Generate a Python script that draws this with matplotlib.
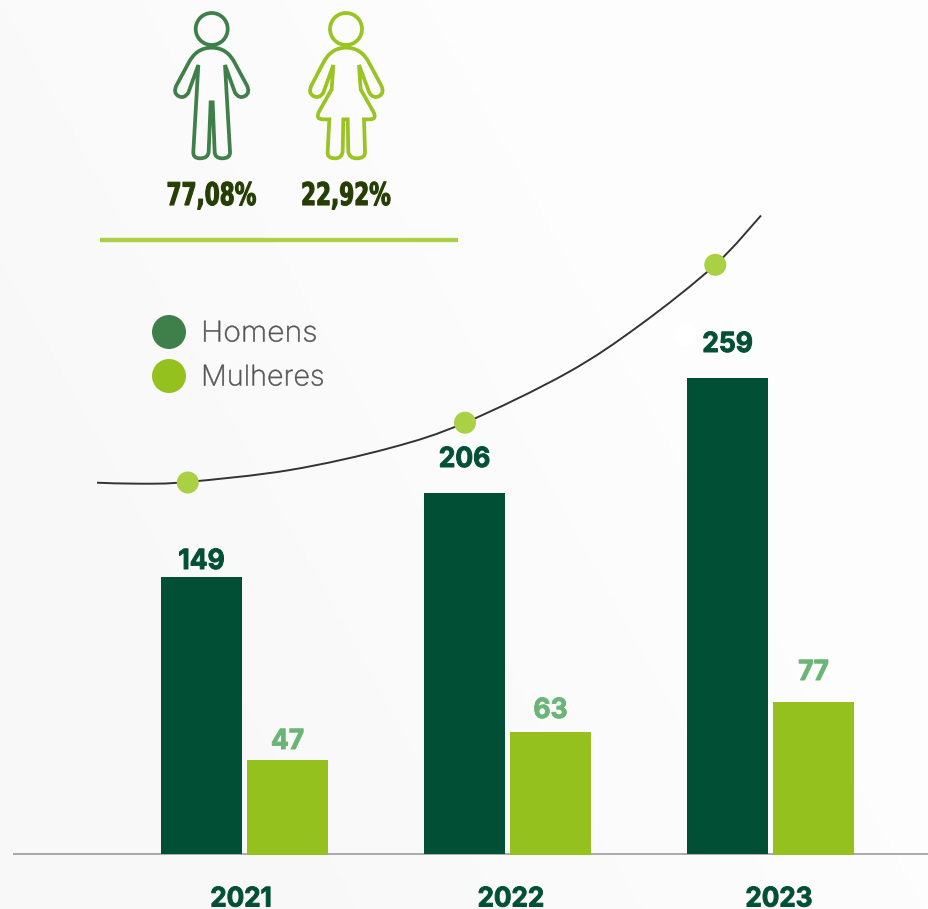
import numpy as np
import matplotlib
matplotlib.use('Agg')
import matplotlib.pyplot as plt
from matplotlib.colors import LinearSegmentedColormap
from matplotlib.path import Path
from matplotlib.patches import PathPatch, Circle
from matplotlib.transforms import Affine2D
import matplotlib.patheffects as pe

W, H = 929, 909

years = ['2021', '2022', '2023']
homens_labels = [149, 206, 259]
mulheres_labels = [47, 63, 77]
# the drawn bars are not to scale with their labels, so heights are read separately
homens_heights = [277, 361, 476]
mulheres_heights = [94, 122, 152]
shares = ['77,08%', '22,92%']
legend_names = ['Homens', 'Mulheres']

# the curve
curve_x = [97, 140, 187, 290, 390, 465, 567, 640, 715, 761]
curve_y = [482.7, 483.7, 482, 470, 448, 422.7, 373, 325, 265, 215.5]

DARK = '#014f35'
LIME = '#95c11f'
MID = '#3f7f4a'
DOT = '#aad044'
LABEL_LIGHT = '#6ab477'
SHARE = '#263d04'
FEMALE = '#9ac422'

FONT = ['Inter', 'DejaVu Sans']


class Stretch(pe.AbstractPathEffect):
    # widen or squeeze the glyphs around cx, Montserrat and the condensed face are not installed
    def __init__(self, cx, sx, stroke=0.0):
        super().__init__()
        self.cx = cx
        self.sx = sx
        self.stroke = stroke

    def draw_path(self, renderer, gc, tpath, affine, rgbFace=None):
        aff = affine + Affine2D().translate(-self.cx, 0).scale(self.sx, 1).translate(self.cx, 0)
        gc0 = renderer.new_gc()
        gc0.copy_properties(gc)
        gc0.set_linewidth(self.stroke)
        gc0.set_foreground(rgbFace)
        renderer.draw_path(gc0, tpath, aff, rgbFace)
        gc0.restore()


fig = plt.figure(figsize=(W / 100, H / 100), dpi=100, facecolor='#f9f9f9')

# pixel-space axes for everything decorative
bg = fig.add_axes([0, 0, 1, 1])
bg.axis('off')

# soft background, lighter to the upper right
gx, gy = np.meshgrid(np.linspace(0, 1, 240), np.linspace(0, 1, 240))
shade = np.clip(gx * 1.3 + (1 - gy) * 0.7 - 0.3, 0, 1)
cmap = LinearSegmentedColormap.from_list('bgshade', ['#f8f8f8', '#fdfdfd'])
bg.imshow(shade, extent=(0, W, H, 0), aspect='auto', cmap=cmap, zorder=0)
bg.set_xlim(0, W)
bg.set_ylim(H, 0)

# bar axes, one y unit is one pixel
BASE = 854
ax = fig.add_axes([0, 0, 1, 1])
ax.patch.set_alpha(0)
ax.set_xlim(0, W)
ax.set_ylim(BASE - H, BASE)
ax.axis('off')

x_h = np.array([201.5, 464.5, 727.5])
x_m = np.array([287.5, 550.5, 813.5])
x_year = [241, 511, 779]
gap_h = [15, 33, 33]
gap_m = [18, 21, 29]
ax.plot([13, W], [-0.4, -0.4], color='#a3a3a3', lw=1.3, zorder=1, solid_capstyle='butt')
ax.bar(x_h, homens_heights, width=81, color=DARK, zorder=2)
ax.bar(x_m, np.array(mulheres_heights) + 1, bottom=-1, width=81, color=LIME, zorder=2)

for x, h, v, g in zip(x_h, homens_heights, homens_labels, gap_h):
    ax.text(x, h + g, str(v), ha='center', va='center', color=DARK, fontsize=20, fontweight='bold', family=FONT,
            path_effects=[Stretch(x, 0.95, 0.7)])
for x, h, v, g in zip(x_m, mulheres_heights, mulheres_labels, gap_m):
    ax.text(x, h + g, str(v), ha='center', va='center', color=LABEL_LIGHT, fontsize=20, fontweight='bold', family=FONT,
            path_effects=[Stretch(x, 0.95, 0.7)])
for x, y in zip(x_year, years):
    ax.text(x, -52.5, y, ha='center', va='baseline', color=DARK, fontsize=19.5, fontweight='bold', family=FONT,
            path_effects=[Stretch(x, 0.96, 0.7)])

# trend curve, catmull-rom through the read points
pts = np.column_stack([curve_x, curve_y])
verts = [pts[0]]
codes = [Path.MOVETO]
for i in range(len(pts) - 1):
    p0 = pts[max(i - 1, 0)]
    p1 = pts[i]
    p2 = pts[i + 1]
    p3 = pts[min(i + 2, len(pts) - 1)]
    verts += [p1 + (p2 - p0) / 6, p2 - (p3 - p1) / 6, p2]
    codes += [Path.CURVE4] * 3
bg.add_patch(PathPatch(Path(verts, codes), fc='none', ec='#333333', lw=1.4, zorder=3))

for cx, cy in [(187.8, 482.5), (465, 422.7), (715.3, 264.8)]:
    bg.add_patch(Circle((cx, cy), 11, color=DOT, lw=0, zorder=4))
bg.add_patch(Circle((685.5, 335), 11, color='white', lw=0, zorder=2))

# divider under the share figures
bg.plot([100, 458], [239.5, 239.5], color=DOT, lw=3.1, solid_capstyle='butt', zorder=3)

# legend
for cy, name, c, sx in zip([332, 376], legend_names, [MID, LIME], [1.06, 1.01]):
    bg.add_patch(Circle((169, cy), 17, color=c, lw=0, zorder=3))
    bg.text(201, cy + 2, name, ha='left', va='center', color='#555555', fontsize=20.5, fontweight='light', family=FONT,
            zorder=3, path_effects=[Stretch(201, sx, 0.35)])


# people icons, outlines (coords are from a 3x crop)
def outline(segments, color):
    verts = []
    codes = []
    for seg in segments:
        if len(seg) == 2 and not verts:
            verts.append(seg)
            codes.append(Path.MOVETO)
        elif len(seg) == 2:
            verts.append(seg)
            codes.append(Path.LINETO)
        else:
            verts += [seg[:2], seg[2:]]
            codes += [Path.CURVE3, Path.CURVE3]
    verts = [(x / 3 + 140, y / 3) for x, y in verts]
    bg.add_patch(PathPatch(Path(verts, codes), fc='none', ec=color, lw=2.7, joinstyle='miter', zorder=3))


male = [(215, 143), (262, 143, 285, 190), (320, 255), (332, 278, 315, 288), (298, 298, 285, 278), (255, 195),
        (270, 455), (272, 475, 247, 475), (224, 475, 224, 455), (218, 307), (212, 307), (206, 455),
        (205, 475, 180, 475), (158, 475, 160, 455), (175, 195), (145, 278), (132, 298, 115, 288),
        (98, 278, 110, 255), (145, 190), (168, 143, 215, 143)]
outline(male, MID)
bg.add_patch(Circle((211.7, 29), 16, fc='none', ec=MID, lw=2.7, zorder=3))

female = [(618, 143), (665, 143, 688, 190), (723, 255), (735, 278, 718, 288), (701, 298, 688, 278), (657, 195),
          (662, 268), (700, 335), (712, 358, 690, 358), (672, 358), (675, 455), (677, 475, 650, 475),
          (628, 475, 625, 455), (623, 358), (610, 358), (608, 455), (605, 475, 585, 475), (560, 475, 563, 455),
          (568, 358), (550, 358), (525, 358, 537, 335), (575, 268), (580, 195), (550, 278), (537, 298, 520, 288),
          (503, 278, 515, 255), (549, 190), (572, 143, 618, 143)]
outline(female, FEMALE)
bg.add_patch(Circle((346, 29), 16, fc='none', ec=FEMALE, lw=2.7, zorder=3))

# condensed heavy percentages
for cx, s in zip([211.5, 346], shares):
    bg.text(cx, 196.5, s, ha='center', va='center', color=SHARE, fontsize=22.5, fontweight='bold',
            family='DejaVu Sans', zorder=3, path_effects=[Stretch(cx, 0.69, 0.8)])

fig.savefig('out.png', dpi=100, facecolor=fig.get_facecolor())
